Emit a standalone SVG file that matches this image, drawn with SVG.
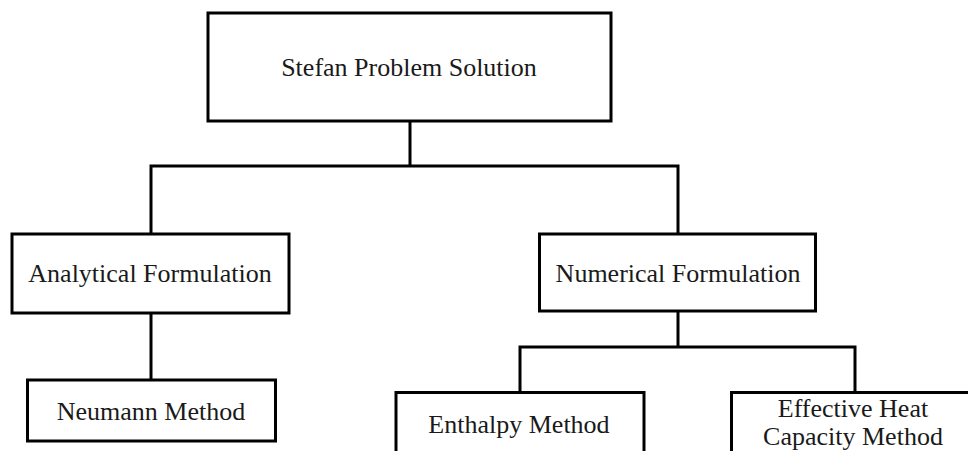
<svg xmlns="http://www.w3.org/2000/svg" width="968" height="451" viewBox="0 0 968 451">
  <style>
    .box { fill: #ffffff; stroke: #000000; stroke-width: 3; }
    .wire { fill: none; stroke: #000000; stroke-width: 3; stroke-linecap: square; }
    .label { font-family: "Liberation Serif", "Times New Roman", serif; font-size: 26px; fill: #1a1a1a; text-anchor: middle; }
  </style>
  <rect width="968" height="451" fill="#ffffff"/>

  <!-- tree connectors -->
  <g id="connectors">
    <path class="wire" d="M410 121 V166 M151 166 H678 M151 166 V234 M678 166 V234"/>
    <path class="wire" d="M151 313 V380"/>
    <path class="wire" d="M678 311 V347 M520 347 H855 M520 347 V392 M855 347 V392"/>
  </g>

  <g id="node-root">
    <rect class="box" x="208" y="13" width="403" height="108"/>
    <text class="label" x="409" y="76">Stefan Problem Solution</text>
  </g>

  <g id="node-analytical">
    <rect class="box" x="12" y="234" width="277" height="79"/>
    <text class="label" x="150" y="282">Analytical Formulation</text>
  </g>

  <g id="node-numerical">
    <rect class="box" x="539.5" y="234" width="276" height="77"/>
    <text class="label" x="678" y="282">Numerical Formulation</text>
  </g>

  <g id="node-neumann">
    <rect class="box" x="27.5" y="380" width="248" height="61"/>
    <text class="label" x="151" y="420">Neumann Method</text>
  </g>

  <g id="node-enthalpy">
    <rect class="box" x="396" y="392.5" width="248" height="80"/>
    <text class="label" x="519" y="433">Enthalpy Method</text>
  </g>

  <g id="node-effective">
    <rect class="box" x="731.5" y="392.5" width="247" height="80"/>
    <text class="label" x="853" y="417">Effective Heat</text>
    <text class="label" x="853" y="445">Capacity Method</text>
  </g>
</svg>
